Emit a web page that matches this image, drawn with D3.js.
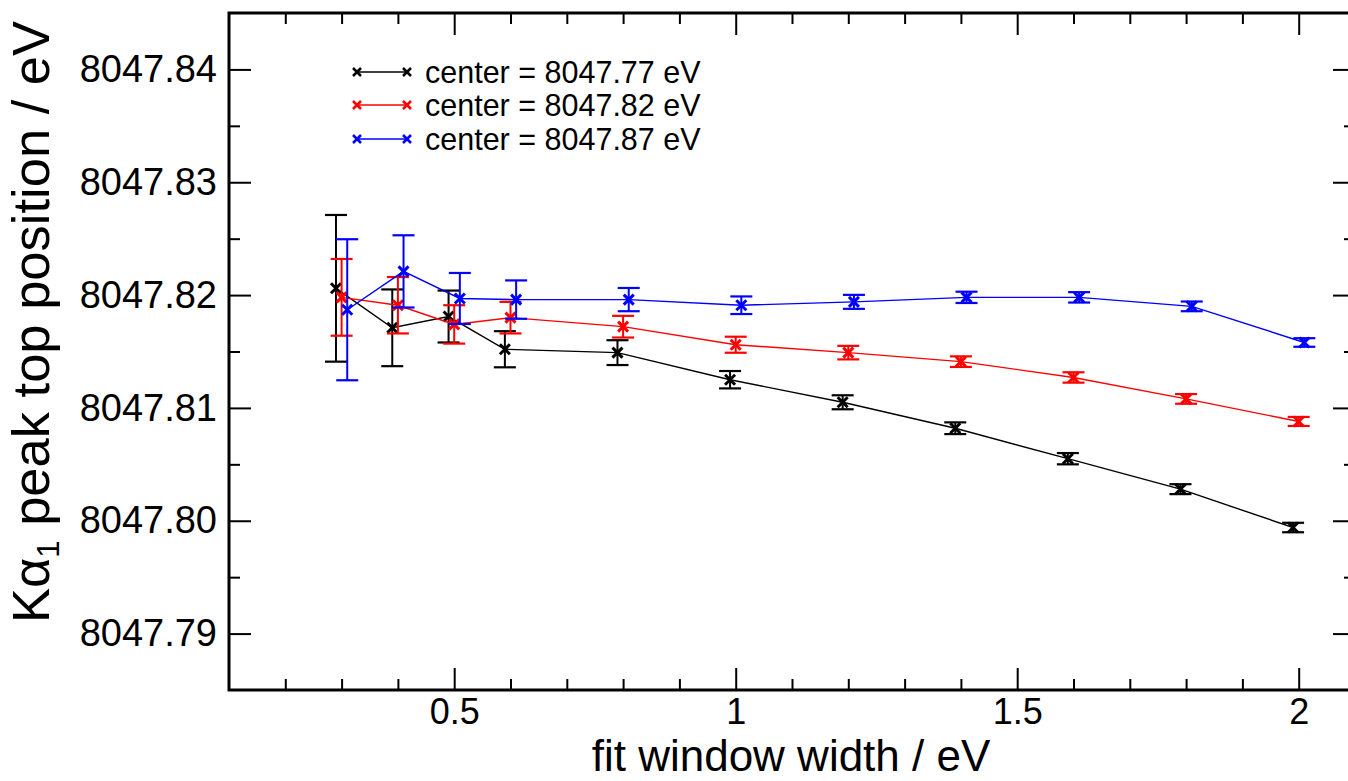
<!DOCTYPE html>
<html>
<head>
<meta charset="utf-8">
<script src="https://cdn.jsdelivr.net/npm/d3@7"></script>
<style>
  html, body { margin: 0; padding: 0; background: #fff; }
  svg { display: block; }
  text { font-family: "Liberation Sans", Arial, Helvetica, sans-serif; fill: #000; }
</style>
</head>
<body>
<svg id="chart" width="1348" height="781"></svg>
<script>
// ---- data ----
const xValues = [0.3, 0.4, 0.5, 0.6, 0.8, 1.0, 1.2, 1.4, 1.6, 1.8, 2.0];
const seriesNames = ["center = 8047.77 eV", "center = 8047.82 eV", "center = 8047.87 eV"];
const seriesColors = ["#000000", "#ff0000", "#0000ff"];
const seriesXShift = [-0.01, 0, 0.01];
const blackY   = [8047.8206, 8047.8171, 8047.8181, 8047.8152, 8047.8149, 8047.8125, 8047.8105, 8047.8082, 8047.8055, 8047.8028, 8047.7994];
const blackErr = [0.0065, 0.0034, 0.0023, 0.0016, 0.0011, 0.00077, 0.00062, 0.00052, 0.00050, 0.00044, 0.00042];
const redY     = [8047.8198, 8047.8191, 8047.8174, 8047.8180, 8047.8172, 8047.8156, 8047.8149, 8047.8141, 8047.8127, 8047.8108, 8047.8088];
const redErr   = [0.0034, 0.0025, 0.0017, 0.0014, 0.00096, 0.00071, 0.00060, 0.00047, 0.00046, 0.00043, 0.00040];
const blueY    = [8047.8187, 8047.8221, 8047.8197, 8047.8196, 8047.8196, 8047.8191, 8047.8194, 8047.8198, 8047.8198, 8047.8190, 8047.8158];
const blueErr  = [0.00625, 0.0032, 0.00226, 0.0017, 0.00103, 0.00078, 0.00062, 0.00050, 0.00046, 0.00043, 0.00038];
const xMajorTicks = [0.5, 1, 1.5, 2];
const xMinorTicks = [0.2, 0.3, 0.4, 0.6, 0.7, 0.8, 0.9, 1.1, 1.2, 1.3, 1.4, 1.6, 1.7, 1.8, 1.9];
const yMajorTicks = [8047.79, 8047.80, 8047.81, 8047.82, 8047.83, 8047.84];
const yMinorTicks = [8047.795, 8047.805, 8047.815, 8047.825, 8047.835];
const xTitle = "fit window width / eV";

// ---- layout ----
const svg = d3.select("#chart");
const L = 229, R = 1355, T = 13, B = 690;
const x = d3.scaleLinear().domain([0.1, 2.1]).range([L, R]);
const y = d3.scaleLinear().domain([8047.785, 8047.845]).range([B, T]);

svg.append("rect").attr("width", 1348).attr("height", 781).attr("fill", "#fff");

function styleAxis(g) {
  g.select(".domain").remove();
  g.selectAll(".tick line").attr("stroke", "#000").attr("stroke-width", 2);
}

// bottom axis
svg.append("g").attr("transform", `translate(0,${B})`)
  .call(d3.axisBottom(x).tickValues(xMajorTicks).tickSizeInner(-22).tickSizeOuter(0).tickPadding(8).tickFormat(d3.format("")))
  .call(styleAxis)
  .call(g => g.selectAll("text").attr("font-size", 36).attr("font-family", "Liberation Sans, Arial, sans-serif").attr("fill", "#000"));
svg.append("g").attr("transform", `translate(0,${B})`)
  .call(d3.axisBottom(x).tickValues(xMinorTicks).tickSizeInner(-11).tickSizeOuter(0).tickFormat(""))
  .call(styleAxis);
// top axis
svg.append("g").attr("transform", `translate(0,${T})`)
  .call(d3.axisTop(x).tickValues(xMajorTicks).tickSizeInner(-22).tickSizeOuter(0).tickFormat(""))
  .call(styleAxis);
svg.append("g").attr("transform", `translate(0,${T})`)
  .call(d3.axisTop(x).tickValues(xMinorTicks).tickSizeInner(-11).tickSizeOuter(0).tickFormat(""))
  .call(styleAxis);
// left axis
svg.append("g").attr("transform", `translate(${L},0)`)
  .call(d3.axisLeft(y).tickValues(yMajorTicks).tickSizeInner(-22).tickSizeOuter(0).tickPadding(12).tickFormat(d3.format(".2f")))
  .call(styleAxis)
  .call(g => g.selectAll("text").attr("font-size", 38).attr("font-family", "Liberation Sans, Arial, sans-serif").attr("fill", "#000"));
svg.append("g").attr("transform", `translate(${L},0)`)
  .call(d3.axisLeft(y).tickValues(yMinorTicks).tickSizeInner(-11).tickSizeOuter(0).tickFormat(""))
  .call(styleAxis);
// right axis
svg.append("g").attr("transform", `translate(${R},0)`)
  .call(d3.axisRight(y).tickValues(yMajorTicks).tickSizeInner(-22).tickSizeOuter(0).tickFormat(""))
  .call(styleAxis);
svg.append("g").attr("transform", `translate(${R},0)`)
  .call(d3.axisRight(y).tickValues(yMinorTicks).tickSizeInner(-11).tickSizeOuter(0).tickFormat(""))
  .call(styleAxis);

// frame
svg.append("rect").attr("x", L).attr("y", T).attr("width", R - L).attr("height", B - T)
  .attr("fill", "none").attr("stroke", "#000").attr("stroke-width", 3);

// ---- series ----
const seriesY = [blackY, redY, blueY];
const seriesErr = [blackErr, redErr, blueErr];
const capHalf = 11, mk = 5;

seriesY.forEach((ys, si) => {
  const color = seriesColors[si];
  const pts = xValues.map((xv, i) => ({ x: xv + seriesXShift[si], y: ys[i], e: seriesErr[si][i] }));
  const g = svg.append("g");
  g.append("path").datum(pts)
    .attr("d", d3.line().x(d => x(d.x)).y(d => y(d.y)))
    .attr("fill", "none").attr("stroke", color).attr("stroke-width", 1.4);
  const eb = g.selectAll(".eb").data(pts).enter().append("g");
  eb.append("line").attr("x1", d => x(d.x)).attr("x2", d => x(d.x))
    .attr("y1", d => y(d.y - d.e)).attr("y2", d => y(d.y + d.e))
    .attr("stroke", color).attr("stroke-width", 2);
  eb.append("line").attr("x1", d => x(d.x) - capHalf).attr("x2", d => x(d.x) + capHalf)
    .attr("y1", d => y(d.y + d.e)).attr("y2", d => y(d.y + d.e))
    .attr("stroke", color).attr("stroke-width", 2.2);
  eb.append("line").attr("x1", d => x(d.x) - capHalf).attr("x2", d => x(d.x) + capHalf)
    .attr("y1", d => y(d.y - d.e)).attr("y2", d => y(d.y - d.e))
    .attr("stroke", color).attr("stroke-width", 2.2);
  eb.append("path")
    .attr("d", d => { const cx = x(d.x), cy = y(d.y);
      return `M${cx - mk},${cy - mk}L${cx + mk},${cy + mk}M${cx - mk},${cy + mk}L${cx + mk},${cy - mk}`; })
    .attr("stroke", color).attr("stroke-width", 3).attr("fill", "none");
});

// ---- legend ----
const legRows = [72, 105, 139];
seriesNames.forEach((name, i) => {
  const g = svg.append("g");
  const yy = legRows[i];
  const x1 = 357, x2 = 407, m = 4;
  g.append("line").attr("x1", x1).attr("x2", x2).attr("y1", yy).attr("y2", yy)
    .attr("stroke", seriesColors[i]).attr("stroke-width", 1.5);
  [x1, x2].forEach(cx => {
    g.append("path").attr("d", `M${cx - m},${yy - m}L${cx + m},${yy + m}M${cx - m},${yy + m}L${cx + m},${yy - m}`)
      .attr("stroke", seriesColors[i]).attr("stroke-width", 2.5);
  });
  g.append("text").attr("x", 425).attr("y", yy).attr("dy", "0.36em")
    .attr("font-size", 30.5).text(name);
});

// ---- titles ----
svg.append("text").attr("x", 791).attr("y", 771).attr("text-anchor", "middle")
  .attr("font-size", 44).text(xTitle);

const yt = svg.append("text").attr("transform", "translate(49,322) rotate(-90)")
  .attr("text-anchor", "middle").attr("font-size", 52.5);
yt.append("tspan").text("K\u03b1");
yt.append("tspan").attr("font-size", 31).attr("dy", 10).text("1");
yt.append("tspan").attr("dy", -10).text(" peak top position / eV");
</script>
</body>
</html>
